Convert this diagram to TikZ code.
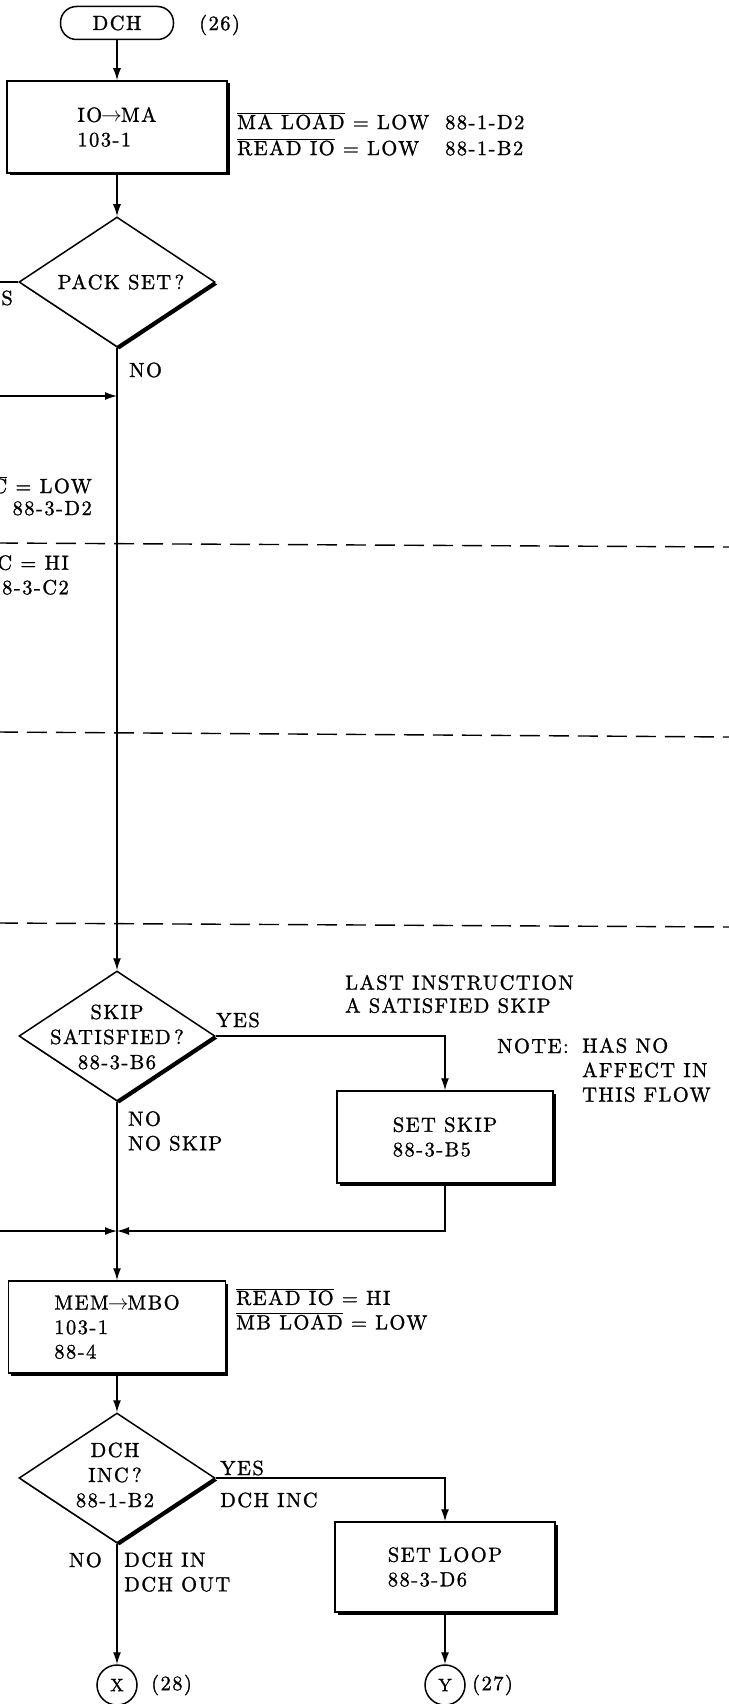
\documentclass[tikz,border=0pt]{standalone}
\usepackage{fontspec}
\setmainfont{lmroman10-regular.otf}[LetterSpace=7,FakeBold=1.2]
\usetikzlibrary{arrows.meta,shapes.geometric,shadows}
\newcommand\fsz{\fontsize{20.5}{24.5}\selectfont}
\newcommand\olbar[1]{$\overline{\mbox{#1}}$}
\newcommand\rarr{\kern-1pt$\rightarrow$\kern-1pt}
\newcommand\hy{\kern1.5pt-\kern1.5pt}
\begin{document}
\begin{tikzpicture}[x=1pt,y=-1pt,
  every node/.append style={font=\fsz, inner sep=0pt},
  ln/.style={line width=1.3pt},
  arr/.style={ln,-{Latex[length=12pt,width=8pt]}},
  shad/.style={drop shadow={shadow xshift=2.5pt,shadow yshift=-2.5pt,opacity=1,fill=black}},
  term/.style={draw,line width=1.5pt,rectangle,rounded corners=16pt,minimum width=113pt,minimum height=33pt},
  proc/.style={draw,line width=1.5pt,fill=white,shad,minimum height=92pt,align=left},
  decision/.style={draw,diamond,line width=1.5pt,fill=white,shad,minimum width=196pt,minimum height=130pt},
  conn/.style={draw,circle,line width=1.5pt,minimum size=40pt,font=\fontsize{18}{20}\selectfont},
  lbl/.style={align=left},
  sepline/.style={line width=1.4pt,dash pattern=on 20pt off 9pt}
]
\fill[white] (0,0) rectangle (728,1704);
\useasboundingbox (0,0) rectangle (728,1704);

% top
\node[term] (start) at (117,23) {DCH};
\node[anchor=west] (n26) at (199,25) {(26)};
\node[proc,minimum width=220pt] (io) at (117,127) {IO\rarr MA\\103\hy1};
\node[lbl,anchor=west,font=\fontsize{20.5}{26}\selectfont] (ioN) at (237,134) {\makebox[208pt][l]{\olbar{MA LOAD} = LOW}88\hy1\hy D2\\\makebox[208pt][l]{\olbar{READ IO} = LOW}88\hy1\hy B2};

\node[decision] (pack) at (117,282) {};
\node (packT) at (121,282) {PACK SET\,?};
\coordinate (yesL) at (-5,282);
\node[anchor=east] (yesT) at (13,298) {YES};
\node[anchor=west] (noP) at (129,370) {NO};
\coordinate (inA) at (-5,396);

\node[align=right,anchor=east,font=\fontsize{20.5}{22}\selectfont] (lowT) at (92,496) {\olbar{\hspace*{40pt}C} = LOW\\88\hy3\hy D2};
\node[align=right,anchor=east] (hiT) at (69,575) {C = HI\\88\hy3\hy C2};

% separators
\coordinate (s1a) at (-2,543); \coordinate (s1b) at (730,547);
\coordinate (s2a) at (-2,732); \coordinate (s2b) at (730,737);
\coordinate (s3a) at (-2,923); \coordinate (s3b) at (730,927);
\draw[sepline] (s1a) -- (s1b);
\draw[sepline] (s2a) -- (s2b);
\draw[sepline] (s3a) -- (s3b);

% skip
\node[decision] (skip) at (117,1036) {};
\node[align=center,font=\fontsize{20.5}{25}\selectfont] (skipT) at (117,1037) {SKIP\\SATISFIED\,?\\88\hy3\hy B6};
\node (yesS) at (238,1020) {YES};
\node[lbl,anchor=west,font=\fontsize{20.5}{23}\selectfont] (lastT) at (345,994) {LAST INSTRUCTION\\A SATISFIED SKIP};
\node[anchor=west] (noteT) at (497,1046) {NOTE:};
\node[lbl,anchor=west] (noteB) at (582,1070) {HAS NO\\AFFECT IN\\THIS FLOW};
\node[proc,minimum width=216pt] (sskip) at (445,1137) {SET SKIP\\88\hy3\hy B5};
\node[lbl,anchor=west] (noS) at (128,1131) {NO\\NO SKIP};
\coordinate (join) at (117,1231);
\coordinate (inB) at (-5,1231);

% mem
\node[proc,minimum width=217pt] (mem) at (117,1327) {MEM\rarr MBO\\103\hy1\\88\hy4};
\node[lbl,anchor=west] (memN) at (236,1309) {\olbar{READ IO} = HI\\\olbar{MB LOAD} = LOW};

% inc
\node[decision] (inc) at (117,1478) {};
\node[align=center,font=\fontsize{20.5}{25}\selectfont] (incT) at (115,1475) {DCH\\INC\,?\\88\hy1\hy B2};
\node[anchor=west] (yesI) at (220,1468) {YES};
\node[anchor=west] (dchinc) at (220,1500) {DCH INC};
\node[proc,minimum width=220pt,minimum height=90pt] (sloop) at (445,1567) {SET LOOP\\88\hy3\hy D6};
\node[anchor=east] (noI) at (102,1560) {NO};
\node[lbl,anchor=west] (dchio) at (124,1572) {DCH IN\\DCH OUT};
\node[conn] (X) at (117,1685) {X};
\node[anchor=west] (n28) at (151,1685) {(28)};
\node[conn] (Y) at (445,1685) {Y};
\node[anchor=west] (n27) at (472,1685) {(27)};

% connectors
\draw[arr] (start) -- (io);
\draw[arr] (io) -- (pack);
\draw[ln] (pack.west) -- (yesL);
\draw[arr] (pack.south) -- (skip.north);
\draw[arr] (inA) -- (inA -| pack.south);
\draw[arr] (skip.east) -| (sskip.north);
\draw[arr] (sskip.south) |- (join);
\draw[arr] (inB) -- (join);
\draw[arr] (skip.south) -- (mem.north);
\draw[arr] (mem) -- (inc);
\draw[arr] (inc.east) -| (sloop.north);
\draw[arr] (inc.south) -- (X.north);
\draw[arr] (sloop) -- (Y);
\end{tikzpicture}
\end{document}
